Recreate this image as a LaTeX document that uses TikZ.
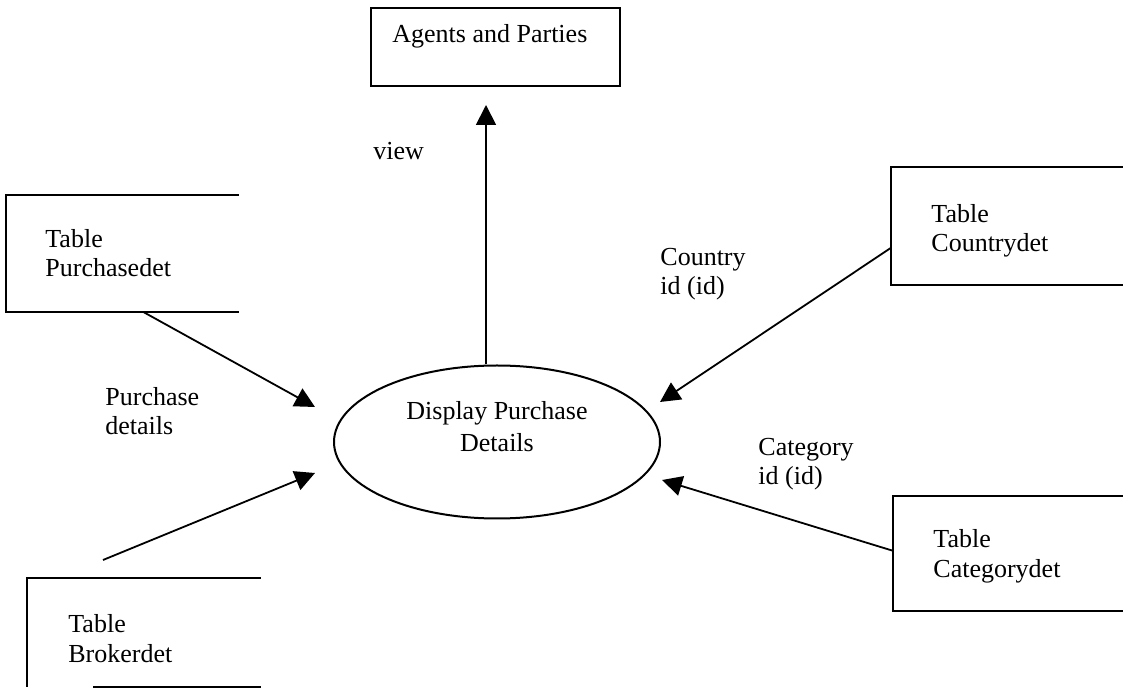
\documentclass[tikz,border=0pt]{standalone}
\usepackage{fontspec}
\setmainfont{Liberation Serif}
\usetikzlibrary{arrows.meta,shapes.geometric}

\tikzset{
  outline/.style={line width=1pt},
  storebox/.style={draw=none, inner sep=0pt, anchor=north west},
  label/.style={anchor=base west, inner sep=0pt, align=left,
    font=\fontsize{13pt}{14.75pt}\selectfont},
  flow/.style={line width=0.9pt, -{Triangle[length=10pt,width=10pt]}},
  process/.style={ellipse, draw, line width=1pt, inner sep=0pt,
    minimum width=163pt, minimum height=76.5pt}
}

\begin{document}
\begin{tikzpicture}[x=0.5pt, y=-0.5pt]
  \useasboundingbox (0,0) rectangle (1124,694);

  % external entity and process
  \node[storebox, draw, line width=1pt, minimum width=124.5pt, minimum height=39pt] (agents) at (370,7) {};
  \node[label] (agentsT) at (392,43) {Agents and Parties};
  \node[process] (pdp) at (497,442) {};
  \node[label, align=center, anchor=base, font=\fontsize{13pt}{16pt}\selectfont] (pdpT) at (497,452) {Display Purchase\\Details};

  % data stores (open on one side)
  \node[storebox, minimum width=116pt, minimum height=58pt] (purch) at (6,195) {};
  \node[storebox, minimum width=116.5pt, minimum height=54pt] (broker) at (27,578) {};
  \node[storebox, minimum width=115.5pt, minimum height=58.5pt] (country) at (891,167) {};
  \node[storebox, minimum width=114.5pt, minimum height=57pt] (category) at (893,496) {};

  \draw[outline] (purch.north east) -- (purch.north west) -- (purch.south west) -- (purch.south east);
  \draw[outline] (broker.north east) -- (broker.north west) -- (broker.south west);
  \draw[outline] ([xshift=33pt]broker.south west) -- (broker.south east);
  \draw[outline] (country.north east) -- (country.north west) -- (country.south west) -- (country.south east);
  \draw[outline] (category.north east) -- (category.north west) -- (category.south west) -- (category.south east);

  % store names (positioned by the baseline of their last line)
  \node[label] (purchT) at (45,277) {Table\\Purchasedet};
  \node[label] (brokerT) at (68,662) {Table\\Brokerdet};
  \node[label] (countryT) at (931,252) {Table\\Countrydet};
  \node[label] (categoryT) at (933,577) {Table\\Categorydet};

  % arrow tips near the process
  \coordinate (agentsIn) at (486,105);
  \coordinate (purchIn) at (315,407);
  \coordinate (brokerIn) at (315,473);
  \coordinate (countryIn) at (660,402);
  \coordinate (categoryIn) at (662,480);

  % data flows
  \draw[flow] (pdp.north -| agentsIn) -- (agentsIn);
  \draw[flow] ([xshift=68.5pt]purch.south west) -- (purchIn);
  \draw[flow] ([xshift=38pt,yshift=9pt]broker.north west) -- (brokerIn);
  \draw[flow] ([yshift=18.5pt]country.south west) -- (countryIn);
  \draw[flow] ([yshift=30pt]category.south west) -- (categoryIn);

  % flow labels
  \node[label] (viewT) at (373,160) {view};
  \node[label] (purchF) at (105,435) {Purchase\\details};
  \node[label] (countryF) at (660,295) {Country\\id (id)};
  \node[label] (categoryF) at (758,485) {Category\\id (id)};
\end{tikzpicture}
\end{document}
